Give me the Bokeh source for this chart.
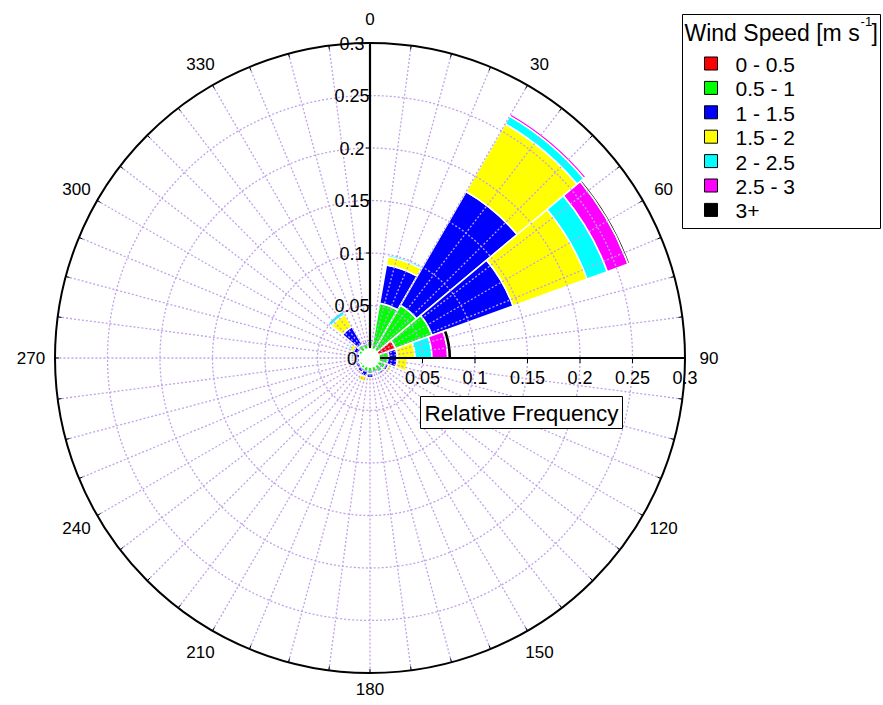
import numpy as np
from bokeh.plotting import figure
from bokeh.models import Range1d, ColumnDataSource
from bokeh.core.properties import value
from bokeh.embed import file_html
from bokeh.resources import INLINE

# ---------------- data ----------------
directions = [0, 20, 40, 60, 80, 100, 120, 140, 160, 180, 200, 220, 240, 260, 280, 300, 320, 340]
sector_width = 20
speed_labels = ["0 - 0.5", "0.5 - 1", "1 - 1.5", "1.5 - 2", "2 - 2.5", "2.5 - 3", "3+"]
speed_colors = ["#ff0000", "#00ff00", "#0000ff", "#ffff00", "#00ffff", "#ff00ff", "#000000"]

freq_0_05 = [0.004, 0.004, 0.005, 0.026, 0.005, 0.004, 0.003, 0.002, 0.002, 0.002, 0.002, 0.002, 0.002, 0.002, 0.002, 0.002, 0.003, 0.002]
freq_05_1 = [0.012, 0.049, 0.053, 0.037, 0.013, 0.013, 0.013, 0.014, 0.012, 0.013, 0.011, 0.010, 0.009, 0.008, 0.008, 0.010, 0.012, 0.012]
freq_1_15 = [0.002, 0.037, 0.125, 0.082, 0.008, 0.009, 0.003, 0.002, 0.002, 0.004, 0.005, 0.004, 0.004, 0.002, 0.004, 0.005, 0.0195, 0.002]
freq_15_2 = [0.000, 0.008, 0.0745, 0.075, 0.017, 0.010, 0.003, 0.000, 0.001, 0.002, 0.005, 0.002, 0.001, 0.000, 0.002, 0.004, 0.0135, 0.000]
freq_2_25 = [0.000, 0.002, 0.0085, 0.0205, 0.016, 0.000, 0.000, 0.000, 0.000, 0.000, 0.000, 0.001, 0.000, 0.000, 0.002, 0.002, 0.004, 0.000]
freq_25_3 = [0.000, 0.000, 0.0025, 0.021, 0.015, 0.000, 0.000, 0.000, 0.000, 0.000, 0.000, 0.000, 0.000, 0.000, 0.000, 0.000, 0.000, 0.000]
freq_3p   = [0.000, 0.000, 0.000, 0.002, 0.004, 0.000, 0.000, 0.000, 0.000, 0.000, 0.000, 0.000, 0.000, 0.000, 0.000, 0.000, 0.000, 0.000]
speed_freqs = [freq_0_05, freq_05_1, freq_1_15, freq_15_2, freq_2_25, freq_25_3, freq_3p]

radial_ticks = [0.05, 0.1, 0.15, 0.2, 0.25, 0.3]
radial_tick_labels = ["0.05", "0.1", "0.15", "0.2", "0.25", "0.3"]
r_max = 0.3
angle_ticks = [0, 30, 60, 90, 120, 150, 180, 210, 240, 270, 300, 330]
angle_tick_labels = ["0", "30", "60", "90", "120", "150", "180", "210", "240", "270", "300", "330"]
grid_angle_step = 7.5
legend_title = "Wind Speed [m s"
axis_title = "Relative Frequency"

# ---------------- layout ----------------
W, H = 883, 705
CX, CY = 369.5, 357.5      # canvas pixel position of the centre
PX = 1050.0                # pixels per unit frequency

def X(px):
    return (px - CX) / PX

def Y(py):
    return (CY - py) / PX

FONT = value("Liberation Sans")

p = figure(width=W, height=H, output_backend="svg", toolbar_location=None,
           x_range=Range1d(X(0), X(W)), y_range=Range1d(Y(H), Y(0)),
           min_border=0, x_axis_type=None, y_axis_type=None)
p.grid.visible = False
p.outline_line_color = None
p.background_fill_color = "white"
p.border_fill_color = "white"

# ---------------- bars ----------------
inner, outer, start, end, colors = [], [], [], [], []
for i, d in enumerate(directions):
    cum = 0.0
    for j, fr in enumerate(speed_freqs):
        f = fr[i]
        if f > 0:
            inner.append(cum)
            outer.append(cum + f)
            start.append(90 - d - sector_width / 2)
            end.append(90 - d + sector_width / 2)
            colors.append(speed_colors[j])
        cum += f
bars = ColumnDataSource(dict(inner=inner, outer=outer, start=start, end=end, color=colors))
p.annular_wedge(x=0, y=0, inner_radius="inner", outer_radius="outer",
                start_angle="start", end_angle="end", start_angle_units="deg",
                end_angle_units="deg", fill_color="color", line_color="white",
                line_width=1.6, source=bars)

# ---------------- grid ----------------
GRID = "#c0a2ea"
grid_angles = np.arange(0, 360, grid_angle_step)
ga = [a for a in grid_angles if a not in (0, 90)]
r0 = 0.012
p.segment(x0=[r0 * np.sin(np.radians(a)) for a in ga], y0=[r0 * np.cos(np.radians(a)) for a in ga],
          x1=[r_max * np.sin(np.radians(a)) for a in ga], y1=[r_max * np.cos(np.radians(a)) for a in ga],
          line_color=GRID, line_width=1.3, line_dash="2 2")
for r in radial_ticks[:-1]:
    p.circle(x=0, y=0, radius=r, fill_color=None, line_color=GRID, line_width=1.3, line_dash="2 2")

# outer circle and its ticks
p.circle(x=0, y=0, radius=r_max, fill_color=None, line_color="black", line_width=2)
tl = 4 / PX
p.segment(x0=[r_max * np.sin(np.radians(a)) for a in grid_angles],
          y0=[r_max * np.cos(np.radians(a)) for a in grid_angles],
          x1=[(r_max - tl) * np.sin(np.radians(a)) for a in grid_angles],
          y1=[(r_max - tl) * np.cos(np.radians(a)) for a in grid_angles],
          line_color="black", line_width=1)

# radial axes
p.segment(x0=[0, 0], y0=[0, 0], x1=[0, r_max], y1=[r_max, 0], line_color="black", line_width=2.2)
p.segment(x0=[0] * len(radial_ticks), y0=radial_ticks, x1=[-tl] * len(radial_ticks), y1=radial_ticks,
          line_color="black", line_width=1)
p.segment(x0=radial_ticks, y0=[0] * len(radial_ticks), x1=radial_ticks, y1=[-5 / PX] * len(radial_ticks),
          line_color="black", line_width=1)

# tick labels
p.text(x=[X(351.5)] * (len(radial_ticks) + 1), y=[0] + radial_ticks, text=["0"] + radial_tick_labels,
       text_align="center", text_baseline="middle", text_font=FONT, text_font_size="18px",
       text_color="black")
p.text(x=radial_ticks, y=[Y(377)] * len(radial_ticks), text=radial_tick_labels,
       text_align="center", text_baseline="middle", text_font=FONT, text_font_size="18px",
       text_color="black")
r_lab = 339 / PX
ax = [r_lab * np.sin(np.radians(a)) for a in angle_ticks]
ay = [r_lab * np.cos(np.radians(a)) for a in angle_ticks]
ay[angle_ticks.index(180)] = Y(688)
p.text(x=ax, y=ay, text=angle_tick_labels, text_align="center", text_baseline="middle",
       text_font=FONT, text_font_size="17px", text_color="black")

# white centre
p.circle(x=0, y=0, radius=10 / PX, fill_color="white", line_color=None)

# ---------------- "Relative Frequency" box ----------------
p.quad(left=X(420), right=X(622), top=Y(396), bottom=Y(428), fill_color="white",
       line_color="black", line_width=1)
p.text(x=[X(521)], y=[Y(412.5)], text=[axis_title], text_align="center", text_baseline="middle",
       text_font=FONT, text_font_size="22.5px", text_color="black")

# ---------------- legend ----------------
p.quad(left=X(682), right=X(880), top=Y(14), bottom=Y(228), fill_color="white",
       line_color="black", line_width=1)
tfs = 23
p.text(x=[X(684)], y=[Y(32)], text=[legend_title], text_align="left", text_baseline="middle",
       text_font=FONT, text_font_size=f"{tfs}px", text_color="black")
tw = 7.614 * tfs
p.text(x=[X(685 + tw)], y=[Y(21)], text=["-1"], text_align="left", text_baseline="middle",
       text_font=FONT, text_font_size="13px", text_color="black")
p.text(x=[X(685 + tw + 11)], y=[Y(32)], text=["]"], text_align="left", text_baseline="middle",
       text_font=FONT, text_font_size=f"{tfs}px", text_color="black")
row_y = [63 + 24.4 * k for k in range(len(speed_labels))]
p.rect(x=[X(710.5)] * len(row_y), y=[Y(v) for v in row_y], width=13 / PX, height=13 / PX,
       fill_color=speed_colors, line_color="black", line_width=1)
p.text(x=[X(735)] * len(row_y), y=[Y(v + 1) for v in row_y], text=speed_labels, text_align="left",
       text_baseline="middle", text_font=FONT, text_font_size="21px", text_color="black")

open("out.html", "w").write(file_html(p, INLINE))
